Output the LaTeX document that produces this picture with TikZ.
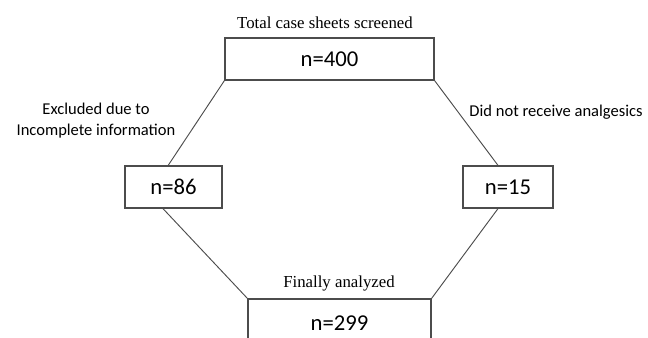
\documentclass[tikz,border=0pt]{standalone}
\usepackage{fontspec}
\setmainfont{Liberation Serif}
\newfontfamily\calfont{Carlito}
\begin{document}
\begin{tikzpicture}[x=0.75pt,y=-0.75pt,every node/.style={inner sep=0pt},
  box/.style={draw=black!70,line width=0.9pt,fill=white,font=\calfont\fontsize{17}{20}\selectfont},
  serlabel/.style={font=\fontsize{12.6}{14}\selectfont},
  sanslabel/.style={font=\calfont\fontsize{12.4}{15.75}\selectfont,align=center}]
\clip (0,0) rectangle (648,338);
\useasboundingbox (0,0) rectangle (648,338);
% boxes
\node[box,minimum width=156.75pt,minimum height=31.5pt] (total) at (329.5,59) {n=400};
\node[box,minimum width=72.75pt,minimum height=31.5pt] (excl) at (173.5,187) {n=86};
\node[box,minimum width=67.5pt,minimum height=31.5pt] (noanal) at (508,187) {n=15};
\node[box,minimum width=137.25pt,minimum height=36pt] (final) at (339.5,323) {n=299};
% labels
\node[serlabel] (ltotal) at (325,23) {Total case sheets screened};
\node[sanslabel] (lexcl) at (96,121) {Excluded due to\\Incomplete information};
\node[sanslabel] (lnoanal) at (556,112) {Did not receive analgesics};
\node[serlabel] (lfinal) at (339,283) {Finally analyzed};
% connectors
\draw[black!70,line width=0.7pt] (total.south west) -- ([xshift=-4pt]excl.north);
\draw[black!70,line width=0.7pt] (total.south east) -- ([xshift=-7.5pt]noanal.north);
\draw[black!70,line width=0.7pt] ([xshift=-7.9pt]excl.south) -- (final.north west);
\draw[black!70,line width=0.7pt] ([xshift=-7.5pt]noanal.south) -- (final.north east);
\end{tikzpicture}
\end{document}
